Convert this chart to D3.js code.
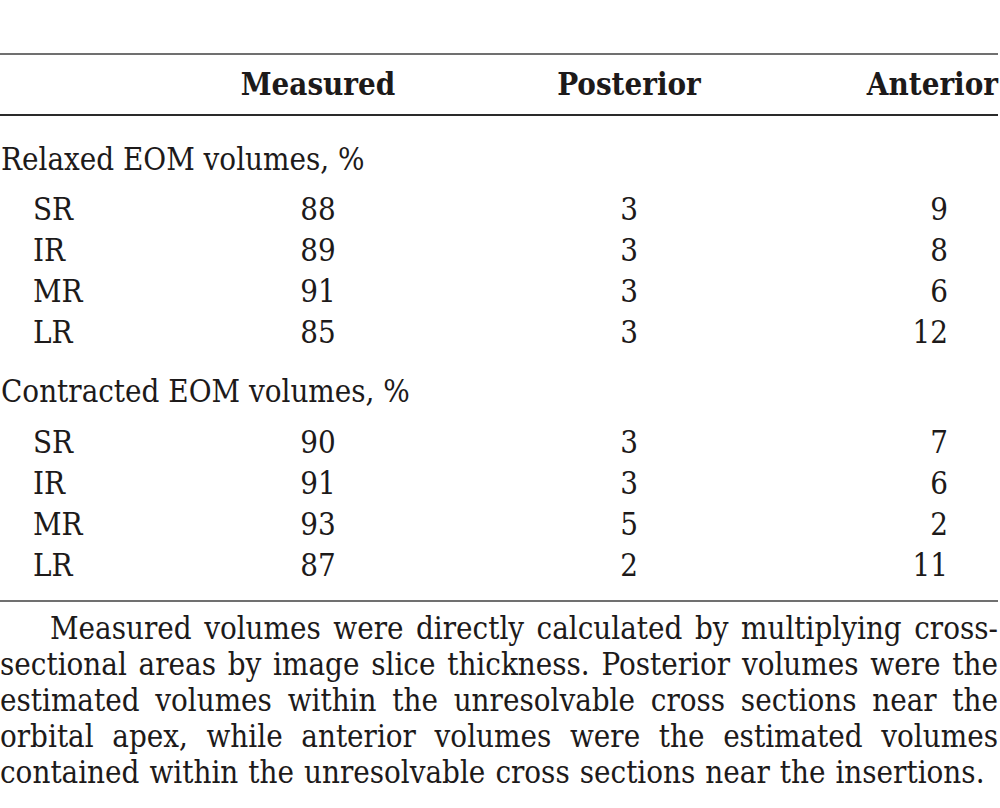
<!DOCTYPE html>
<html lang="en">
<head>
    <meta charset="UTF-8">
    <title>EOM volumes table</title>
    <script src="https://d3js.org/d3.v7.min.js"></script>
    <style>
        body {
            margin: 0;
            background: #fff;
        }
        svg text {
            font-family: "DejaVu Serif Condensed", "DejaVu Serif", serif;
            font-stretch: condensed;
            fill: #1d1a1a;
        }
        .head {
            font-weight: bold;
            font-size: 31px;
        }
        .cell {
            font-size: 31px;
        }
        .note {
            font-size: 31px;
        }
    </style>
</head>
<body>
    <div id="table"></div>
    <script>
        // table content
        const columns = ["Measured", "Posterior", "Anterior"];
        const muscles = ["SR", "IR", "MR", "LR"];

        const relaxedTitle = "Relaxed EOM volumes, %";
        const relaxedMeasured = [88, 89, 91, 85];
        const relaxedPosterior = [3, 3, 3, 3];
        const relaxedAnterior = [9, 8, 6, 12];

        const contractedTitle = "Contracted EOM volumes, %";
        const contractedMeasured = [90, 91, 93, 87];
        const contractedPosterior = [3, 3, 5, 2];
        const contractedAnterior = [7, 6, 2, 11];

        const noteLines = [
            "Measured volumes were directly calculated by multiplying cross-",
            "sectional areas by image slice thickness. Posterior volumes were the",
            "estimated volumes within the unresolvable cross sections near the",
            "orbital apex, while anterior volumes were the estimated volumes",
            "contained within the unresolvable cross sections near the insertions."
        ];

        const width = 1000, height = 808;

        const svg = d3.select("#table")
            .append("svg")
            .attr("width", width)
            .attr("height", height);

        // column positions (x) and anchors
        const colX = d3.scaleOrdinal()
            .domain(columns)
            .range([318, 629, 948]);
        const colAnchor = ["middle", "middle", "end"];

        // rules
        const rules = [
            { y: 54, color: "#707070" },
            { y: 115, color: "#2a2a2a" },
            { y: 601, color: "#707070" }
        ];
        svg.selectAll(".rule")
            .data(rules)
            .enter()
            .append("line")
            .attr("class", "rule")
            .attr("x1", 0)
            .attr("x2", 998)
            .attr("y1", d => d.y)
            .attr("y2", d => d.y)
            .attr("stroke", d => d.color)
            .attr("stroke-width", 2);

        // header
        svg.selectAll(".head")
            .data(columns)
            .enter()
            .append("text")
            .attr("class", "head")
            .attr("x", (d, i) => i === 2 ? 998 : colX(d))
            .attr("y", 95)
            .attr("text-anchor", (d, i) => colAnchor[i])
            .text(d => d);

        // one block of rows
        function drawBlock(title, titleY, firstRowY, measured, posterior, anterior) {
            const rowY = d3.scaleLinear()
                .domain([0, muscles.length - 1])
                .range([firstRowY, firstRowY + 41 * (muscles.length - 1)]);

            svg.append("text")
                .attr("class", "cell")
                .attr("x", 1)
                .attr("y", titleY)
                .text(title);

            const g = svg.append("g");
            const rows = muscles.map((m, i) => [m, measured[i], posterior[i], anterior[i]]);

            const row = g.selectAll("g")
                .data(rows)
                .enter()
                .append("g")
                .attr("transform", (d, i) => `translate(0,${rowY(i)})`);

            row.append("text")
                .attr("class", "cell")
                .attr("x", 33)
                .text(d => d[0]);

            columns.forEach((c, j) => {
                row.append("text")
                    .attr("class", "cell")
                    .attr("x", colX(c))
                    .attr("text-anchor", colAnchor[j])
                    .text(d => d[j + 1]);
            });
        }

        drawBlock(relaxedTitle, 170, 220, relaxedMeasured, relaxedPosterior, relaxedAnterior);
        drawBlock(contractedTitle, 402, 453, contractedMeasured, contractedPosterior, contractedAnterior);

        // justified footnote, word by word
        const noteLeft = 0, noteRight = 998, indent = 50;
        noteLines.forEach((line, i) => {
            const y = 639 + i * 36;
            const words = line.split(" ");
            const x0 = noteLeft + (i === 0 ? indent : 0);
            const g = svg.append("g");
            const texts = g.selectAll("text")
                .data(words)
                .enter()
                .append("text")
                .attr("class", "note")
                .attr("y", y)
                .text(d => d);
            const widths = texts.nodes().map(n => n.getComputedTextLength());
            const total = d3.sum(widths);
            const last = i === noteLines.length - 1;
            const gap = last ? 10 : (noteRight - x0 - total) / (words.length - 1);
            let x = x0;
            texts.attr("x", (d, k) => {
                const px = x;
                x += widths[k] + gap;
                return px;
            });
        });
    </script>
</body>
</html>
